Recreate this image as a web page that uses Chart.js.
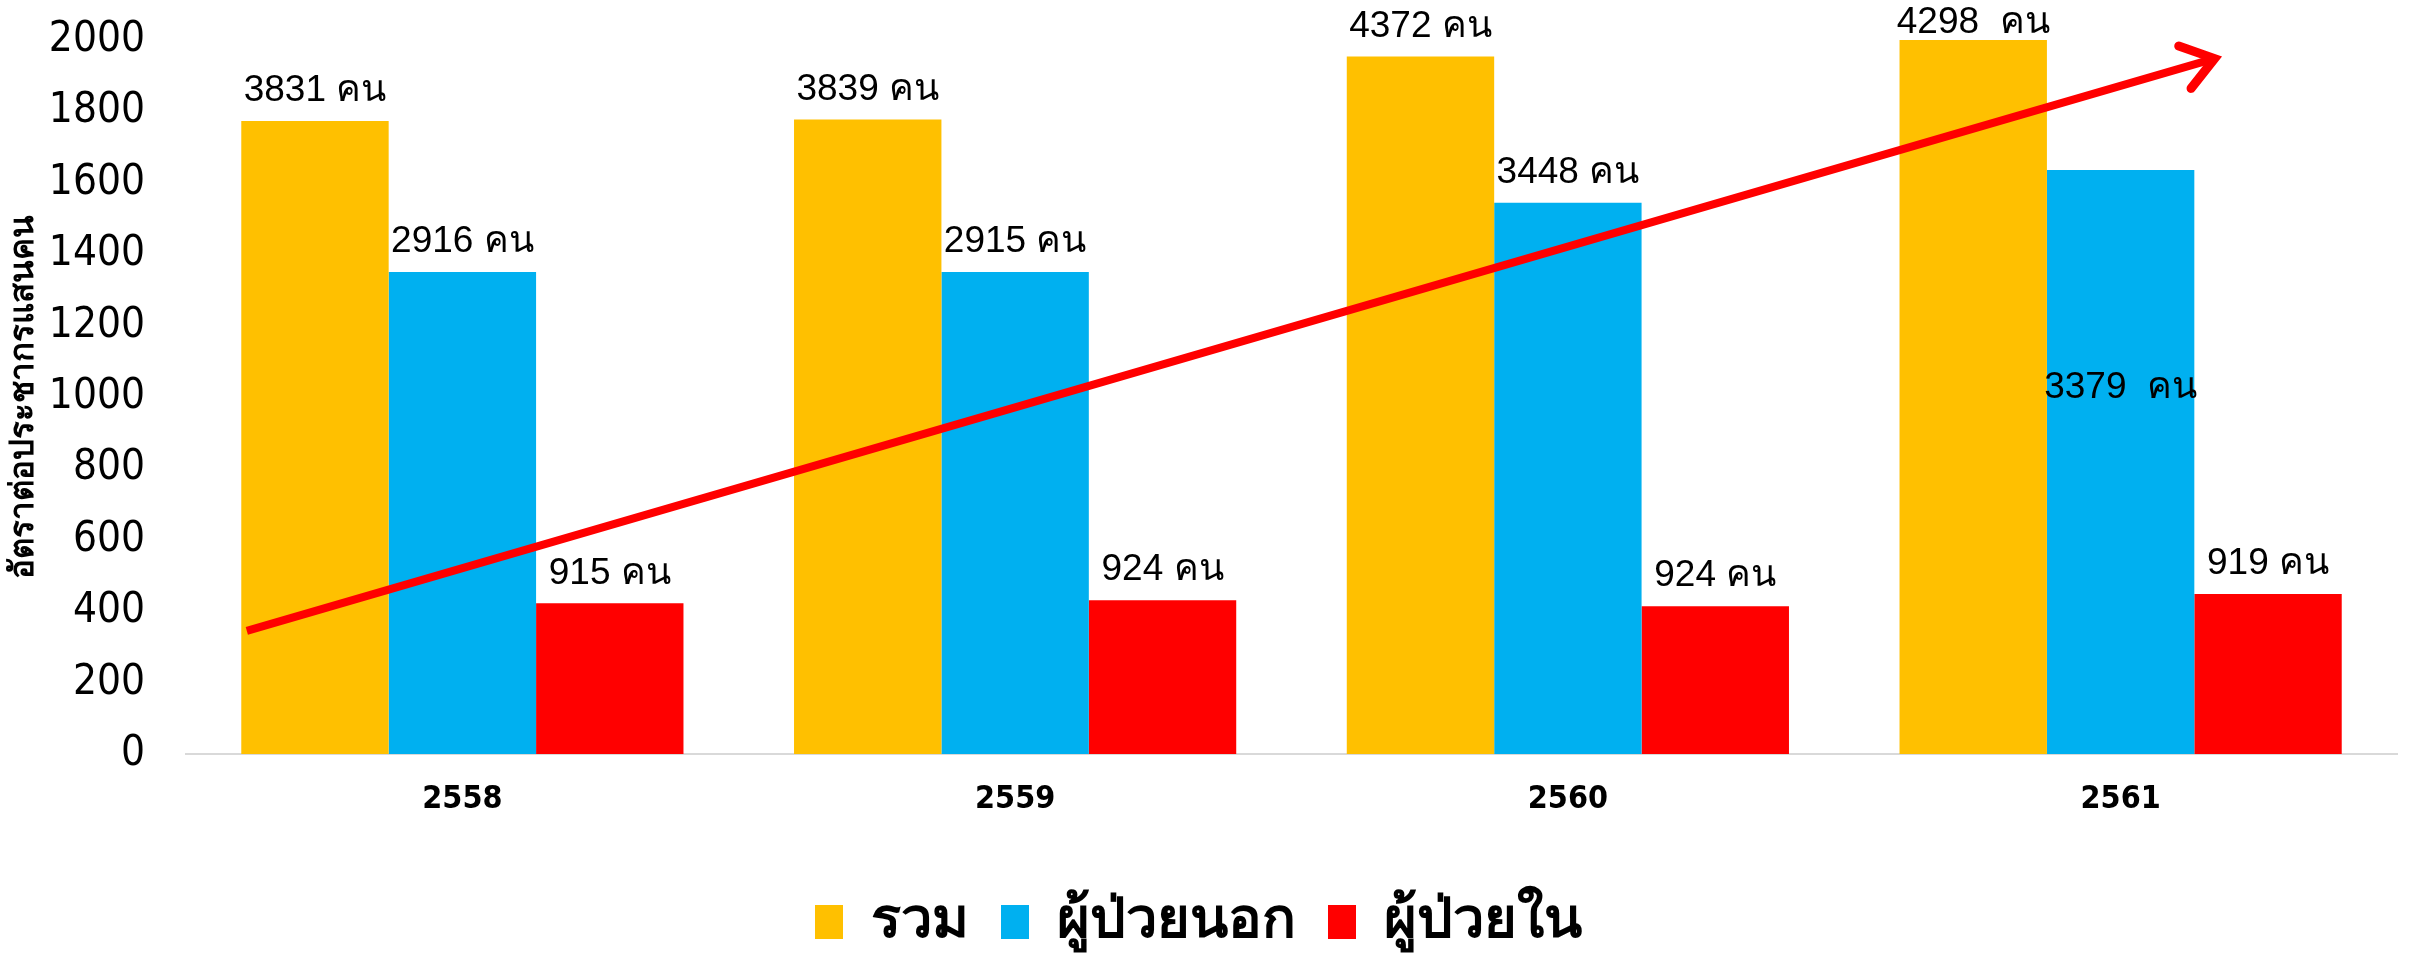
<!DOCTYPE html>
<html>
<head>
<meta charset="utf-8">
<script src="https://cdn.jsdelivr.net/npm/chart.js@4.4.1/dist/chart.umd.min.js"></script>
<style>
    body { margin: 0; background: #ffffff; }
    #wrap { width: 2410px; height: 960px; position: relative; }
</style>
</head>
<body>
<div id="wrap"><canvas id="rateChart"></canvas></div>
<script>
// Rate per 100,000 population, by year (Buddhist era)
const years = ['2558', '2559', '2560', '2561'];
const seriesNames = ['รวม', 'ผู้ป่วยนอก', 'ผู้ป่วยใน'];
const rateTotal = [1773, 1777, 1954, 2000];
const rateOutpatient = [1350, 1350, 1544, 1636];
const rateInpatient = [422, 431, 414, 448];

// people counts printed over the bars
const countTotal = ['3831 คน', '3839 คน', '4372 คน', '4298  คน'];
const countOutpatient = ['2916 คน', '2915 คน', '3448 คน', '3379  คน'];
const countInpatient = ['915 คน', '924 คน', '924 คน', '919 คน'];

const yTicks = [0, 200, 400, 600, 800, 1000, 1200, 1400, 1600, 1800, 2000];

// trend arrow, in data coordinates [category index, rate]
const trendFrom = [-0.39, 345];
const trendTo = [3.17, 1948];

const labelFont = '37px "Liberation Sans Narrow", "Liberation Sans", sans-serif';

// Count labels above each bar (the last outpatient one sits inside the bar)
const countLabelPlugin = {
    id: 'countLabels',
    afterDatasetsDraw(chart) {
        const ctx = chart.ctx;
        const counts = [countTotal, countOutpatient, countInpatient];
        ctx.save();
        ctx.font = labelFont;
        ctx.fillStyle = '#000000';
        ctx.textAlign = 'center';
        ctx.textBaseline = 'middle';
        chart.data.datasets.forEach(function(ds, di) {
            const meta = chart.getDatasetMeta(di);
            meta.data.forEach(function(bar, i) {
                let y = bar.y - 30;
                if (di === 1 && i === 3) {
                    y = bar.y + 218;
                }
                y = Math.max(y, 23);
                ctx.fillText(counts[di][i], bar.x, y);
            });
        });
        ctx.restore();
    }
};

const trendArrowPlugin = {
    id: 'trendArrow',
    afterDatasetsDraw(chart) {
        const xs = chart.scales.x;
        const ys = chart.scales.y;
        const x1 = xs.getPixelForValue(trendFrom[0]);
        const y1 = ys.getPixelForValue(trendFrom[1]);
        const x2 = xs.getPixelForValue(trendTo[0]);
        const y2 = ys.getPixelForValue(trendTo[1]);
        const ang = Math.atan2(y2 - y1, x2 - x1);
        const head = 38;
        const ctx = chart.ctx;
        ctx.save();
        ctx.strokeStyle = '#ff0000';
        ctx.lineWidth = 8;
        ctx.beginPath();
        ctx.moveTo(x1, y1);
        ctx.lineTo(x2 - 5 * Math.cos(ang), y2 - 5 * Math.sin(ang));
        ctx.stroke();
        ctx.lineWidth = 9;
        ctx.lineCap = 'round';
        ctx.lineJoin = 'miter';
        ctx.beginPath();
        ctx.moveTo(x2 - head * Math.cos(ang - 0.62), y2 - head * Math.sin(ang - 0.62));
        ctx.lineTo(x2, y2);
        ctx.lineTo(x2 - head * Math.cos(ang + 0.62), y2 - head * Math.sin(ang + 0.62));
        ctx.stroke();
        ctx.restore();
    }
};

document.addEventListener('DOMContentLoaded', function() {
    const ctx = document.getElementById('rateChart');
    new Chart(ctx, {
        type: 'bar',
        data: {
            labels: years,
            datasets: [{
                label: seriesNames[0],
                data: rateTotal,
                backgroundColor: '#ffc000'
            }, {
                label: seriesNames[1],
                data: rateOutpatient,
                backgroundColor: '#00b0f0'
            }, {
                label: seriesNames[2],
                data: rateInpatient,
                backgroundColor: '#ff0000'
            }]
        },
        options: {
            responsive: true,
            maintainAspectRatio: false,
            animation: false,
            devicePixelRatio: 1,
            layout: {
                padding: { top: 40, right: 13, left: 0, bottom: 0 }
            },
            datasets: {
                bar: {
                    categoryPercentage: 0.8,
                    barPercentage: 1.0,
                    borderWidth: 0
                }
            },
            plugins: {
                legend: {
                    position: 'bottom',
                    maxHeight: 98,
                    labels: {
                        color: '#000000',
                        boxWidth: 28,
                        boxHeight: 34,
                        padding: 32,
                        font: {
                            family: '"Liberation Sans", sans-serif',
                            size: 56,
                            weight: 'bold'
                        }
                    }
                },
                tooltip: { enabled: false }
            },
            scales: {
                x: {
                    grid: { display: false, drawTicks: false },
                    border: { display: true, color: '#d9d9d9', width: 2 },
                    ticks: {
                        color: '#000000',
                        padding: 26,
                        font: {
                            family: '"DejaVu Sans Condensed", "Liberation Sans", sans-serif',
                            size: 32,
                            weight: 'bold'
                        }
                    },
                    afterFit: function(scale) {
                        scale.height = 108;
                    }
                },
                y: {
                    min: 0,
                    max: 2000,
                    grid: { display: false, drawTicks: false },
                    border: { display: false },
                    afterBuildTicks: function(scale) {
                        scale.ticks = yTicks.map(function(v) { return { value: v }; });
                    },
                    ticks: {
                        color: '#000000',
                        padding: 41,
                        font: {
                            family: '"DejaVu Sans Condensed", "DejaVu Sans", sans-serif',
                            size: 42
                        },
                        callback: function(value) {
                            return String(value);
                        }
                    },
                    title: {
                        display: true,
                        text: 'อัตราต่อประชากรแสนคน',
                        color: '#000000',
                        padding: 4,
                        font: {
                            family: '"Liberation Sans", sans-serif',
                            size: 33,
                            weight: 'bold'
                        }
                    },
                    afterFit: function(scale) {
                        scale.width = 186;
                        scale.paddingTop = 0;
                        scale.paddingBottom = 0;
                    }
                }
            }
        },
        plugins: [countLabelPlugin, trendArrowPlugin]
    });
});
</script>
</body>
</html>
